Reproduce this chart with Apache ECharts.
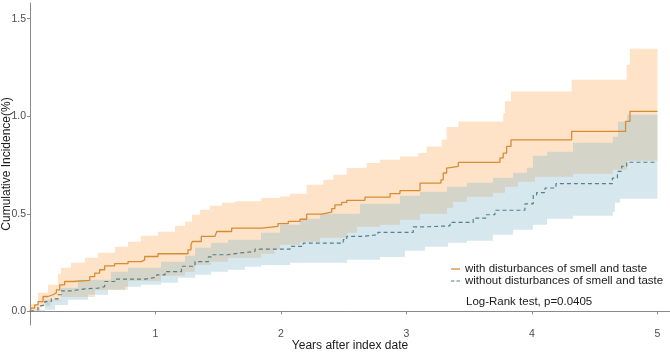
<!DOCTYPE html>
<html>
<head>
<meta charset="utf-8">
<script src="https://cdn.jsdelivr.net/npm/echarts@6/dist/echarts.min.js"></script>
<style>
  html, body { margin: 0; padding: 0; background: #fff; }
  #chart { width: 670px; height: 354px; }
</style>
</head>
<body>
<div id="chart"></div>
<script>
// cumulative incidence curves, [years, %]
var withCurve = [
  [0, 0], [0.010, 0.016], [0.037, 0.033], [0.064, 0.050], [0.104, 0.076], [0.143, 0.085],
  [0.183, 0.095], [0.210, 0.110], [0.237, 0.136], [0.276, 0.153], [0.343, 0.159], [0.476, 0.178],
  [0.516, 0.196], [0.555, 0.213], [0.595, 0.233], [0.675, 0.244], [0.781, 0.255], [0.887, 0.264],
  [0.914, 0.281], [1.020, 0.295], [1.259, 0.315], [1.283, 0.341], [1.293, 0.358], [1.365, 0.384],
  [1.474, 0.392], [1.488, 0.409], [1.607, 0.426], [1.846, 0.435], [1.976, 0.449], [2.058, 0.461],
  [2.151, 0.472], [2.205, 0.498], [2.324, 0.508], [2.404, 0.526], [2.430, 0.546], [2.484, 0.558],
  [2.524, 0.569], [2.669, 0.585], [2.869, 0.603], [2.948, 0.619], [3.108, 0.657], [3.275, 0.674],
  [3.293, 0.709], [3.320, 0.734], [3.333, 0.743], [3.413, 0.763], [3.745, 0.786], [3.771, 0.811],
  [3.798, 0.845], [3.833, 0.879], [4.316, 0.922], [4.746, 0.973], [4.781, 1.025], [5.0, 1.025]
];
var withoutCurve = [
  [0, 0], [0.010, 0.008], [0.064, 0.028], [0.090, 0.033], [0.117, 0.050], [0.170, 0.064],
  [0.223, 0.085], [0.249, 0.105], [0.329, 0.115], [0.436, 0.119], [0.542, 0.127], [0.595, 0.153],
  [0.675, 0.165], [0.914, 0.175], [1.010, 0.187], [1.076, 0.204], [1.207, 0.231], [1.315, 0.255],
  [1.421, 0.279], [1.445, 0.290], [1.580, 0.298], [1.657, 0.307], [1.793, 0.319], [2.072, 0.333],
  [2.178, 0.350], [2.496, 0.367], [2.524, 0.384], [2.643, 0.392], [2.773, 0.405], [3.054, 0.433],
  [3.147, 0.438], [3.347, 0.456], [3.532, 0.478], [3.633, 0.495], [3.705, 0.518], [3.944, 0.551],
  [4.010, 0.597], [4.037, 0.608], [4.104, 0.632], [4.191, 0.654], [4.641, 0.683], [4.681, 0.717],
  [4.715, 0.743], [4.755, 0.764], [5.0, 0.764]
];

// confidence bands
var withUpper = [
  [0, 0], [0.008, 0.038], [0.064, 0.095], [0.143, 0.136], [0.223, 0.192], [0.247, 0.223],
  [0.327, 0.249], [0.438, 0.274], [0.542, 0.300], [0.677, 0.331], [0.781, 0.356], [0.884, 0.387],
  [1.020, 0.408], [1.155, 0.438], [1.235, 0.459], [1.291, 0.495], [1.355, 0.521], [1.434, 0.541],
  [1.530, 0.556], [1.633, 0.564], [1.841, 0.581], [1.992, 0.589], [2.072, 0.603], [2.205, 0.649],
  [2.337, 0.674], [2.417, 0.700], [2.524, 0.734], [2.683, 0.760], [2.789, 0.777], [2.948, 0.794],
  [3.094, 0.811], [3.161, 0.845], [3.280, 0.879], [3.320, 0.944], [3.413, 0.973], [3.771, 1.016],
  [3.785, 1.076], [3.833, 1.127], [4.316, 1.187], [4.755, 1.264], [4.781, 1.345], [5.0, 1.345]
];
var withLower = [
  [0, 0], [0.080, 0.028], [0.159, 0.054], [0.247, 0.074], [0.518, 0.110], [0.781, 0.156],
  [1.044, 0.182], [1.235, 0.203], [1.315, 0.238], [1.442, 0.254], [1.578, 0.274], [1.841, 0.295],
  [1.950, 0.320], [1.992, 0.341], [2.151, 0.356], [2.311, 0.377], [2.526, 0.403], [2.606, 0.433],
  [2.789, 0.444], [2.948, 0.469], [3.108, 0.500], [3.323, 0.531], [3.371, 0.562], [3.482, 0.587],
  [3.689, 0.608], [3.785, 0.638], [3.888, 0.664], [4.024, 0.690], [4.327, 0.705], [4.645, 0.726],
  [4.757, 0.772], [5.0, 0.772]
];
var withoutUpper = [
  [0, 0], [0.120, 0.059], [0.247, 0.121], [0.382, 0.162], [0.645, 0.203], [0.781, 0.223],
  [1.044, 0.254], [1.235, 0.285], [1.315, 0.326], [1.442, 0.351], [1.578, 0.367], [1.841, 0.403],
  [1.992, 0.444], [2.151, 0.474], [2.311, 0.500], [2.629, 0.551], [2.948, 0.592], [3.108, 0.613],
  [3.323, 0.638], [3.482, 0.659], [3.689, 0.685], [3.849, 0.710], [3.960, 0.736], [4.008, 0.797],
  [4.120, 0.818], [4.327, 0.864], [4.645, 0.895], [4.685, 0.972], [4.757, 1.008], [5.0, 1.008]
];
var withoutLower = [
  [0, 0], [0.064, 0.008], [0.199, 0.033], [0.303, 0.059], [0.462, 0.085], [0.622, 0.110],
  [0.757, 0.126], [0.884, 0.136], [1.044, 0.146], [1.179, 0.172], [1.315, 0.187], [1.442, 0.203],
  [1.578, 0.213], [1.713, 0.228], [1.841, 0.238], [2.072, 0.249], [2.526, 0.264], [2.789, 0.279],
  [2.988, 0.310], [3.147, 0.331], [3.331, 0.351], [3.482, 0.362], [3.689, 0.392], [3.849, 0.418],
  [4.008, 0.444], [4.120, 0.474], [4.327, 0.490], [4.645, 0.510], [4.661, 0.556], [4.701, 0.577],
  [5.0, 0.577]
];

var xTicks = [1, 2, 3, 4, 5];
var yTicks = [0, 0.5, 1, 1.5];
var names = ['with disturbances of smell and taste', 'without disturbances of smell and taste'];
var testLabel = 'Log-Rank test, p=0.0405';

var font = 'Liberation Sans, Arial, sans-serif';
var orange = '#d68c35';
var teal = '#547f8c';

// turn a step curve into polygon corner points
function stepPoints(arr) {
  var out = [];
  for (var i = 0; i < arr.length; i++) {
    out.push(arr[i]);
    if (i < arr.length - 1) out.push([arr[i + 1][0], arr[i][1]]);
  }
  return out;
}

function band(upper, lower, color) {
  return {
    type: 'custom',
    silent: true,
    data: [[0, 0]],
    renderItem: function (params, api) {
      var pts = stepPoints(upper).concat(stepPoints(lower).reverse()).map(function (p) {
        return api.coord(p);
      });
      return { type: 'polygon', shape: { points: pts }, style: { fill: color } };
    }
  };
}

var chart = echarts.init(document.getElementById('chart'));

var option = {
  animation: false,
  backgroundColor: '#fff',
  grid: { left: 30, right: 0, top: 3, bottom: 29, containLabel: false, outerBoundsMode: 'none' },
  title: {
    text: testLabel,
    left: 466, top: 296, padding: 0,
    textStyle: { fontFamily: font, fontSize: 11.5, fontWeight: 'normal', color: '#1a1a1a' }
  },
  legend: {
    orient: 'vertical',
    left: 451, top: 263, padding: 0,
    itemWidth: 9, itemHeight: 12, itemGap: 0,
    data: [
      { name: names[0], icon: 'path://M0,5.4h9v1.3h-9z', itemStyle: { color: orange } },
      { name: names[1], icon: 'path://M0,5.4h3.5v1.2h-3.5z M5.5,5.4h3.5v1.2h-3.5z', itemStyle: { color: teal } }
    ],
    textStyle: { fontFamily: font, fontSize: 11.5, color: '#1a1a1a' }
  },
  xAxis: {
    type: 'value',
    min: 0, max: 5.1,
    name: 'Years after index date',
    nameLocation: 'middle',
    nameGap: 15,
    nameMoveOverlap: false,
    nameTextStyle: { fontFamily: font, fontSize: 12, color: '#1a1a1a' },
    axisLine: { lineStyle: { color: '#8a8a8a', width: 1 } },
    axisTick: { length: 3, lineStyle: { color: '#8a8a8a' }, customValues: xTicks },
    axisLabel: { customValues: xTicks, fontFamily: font, fontSize: 10.5, color: '#4d4d4d', margin: 4 },
    splitLine: { show: false }
  },
  yAxis: {
    type: 'value',
    min: -0.07, max: 1.58,
    name: 'Cumulative Incidence(%)',
    nameLocation: 'middle',
    nameRotate: 90,
    nameGap: 17,
    nameMoveOverlap: false,
    nameTextStyle: { fontFamily: font, fontSize: 12, color: '#1a1a1a' },
    axisLine: { show: true, lineStyle: { color: '#8a8a8a', width: 1 } },
    axisTick: { show: true, length: 3, lineStyle: { color: '#8a8a8a' }, customValues: yTicks },
    axisLabel: {
      customValues: yTicks, fontFamily: font, fontSize: 10.5, color: '#4d4d4d', margin: 4,
      formatter: function (v) { return v.toFixed(1); }
    },
    splitLine: { show: false }
  },
  series: [
    band(withUpper, withLower, 'rgba(250,150,55,0.27)'),
    band(withoutUpper, withoutLower, 'rgba(120,180,200,0.3)'),
    {
      name: names[0],
      type: 'line',
      step: 'end',
      symbol: 'none',
      data: withCurve,
      lineStyle: { color: orange, width: 1.3 },
      itemStyle: { color: orange }
    },
    {
      name: names[1],
      type: 'line',
      step: 'end',
      symbol: 'none',
      data: withoutCurve,
      lineStyle: { color: teal, width: 1.2, type: [4, 3] },
      itemStyle: { color: teal }
    }
  ]
};

chart.setOption(option);
</script>
</body>
</html>
